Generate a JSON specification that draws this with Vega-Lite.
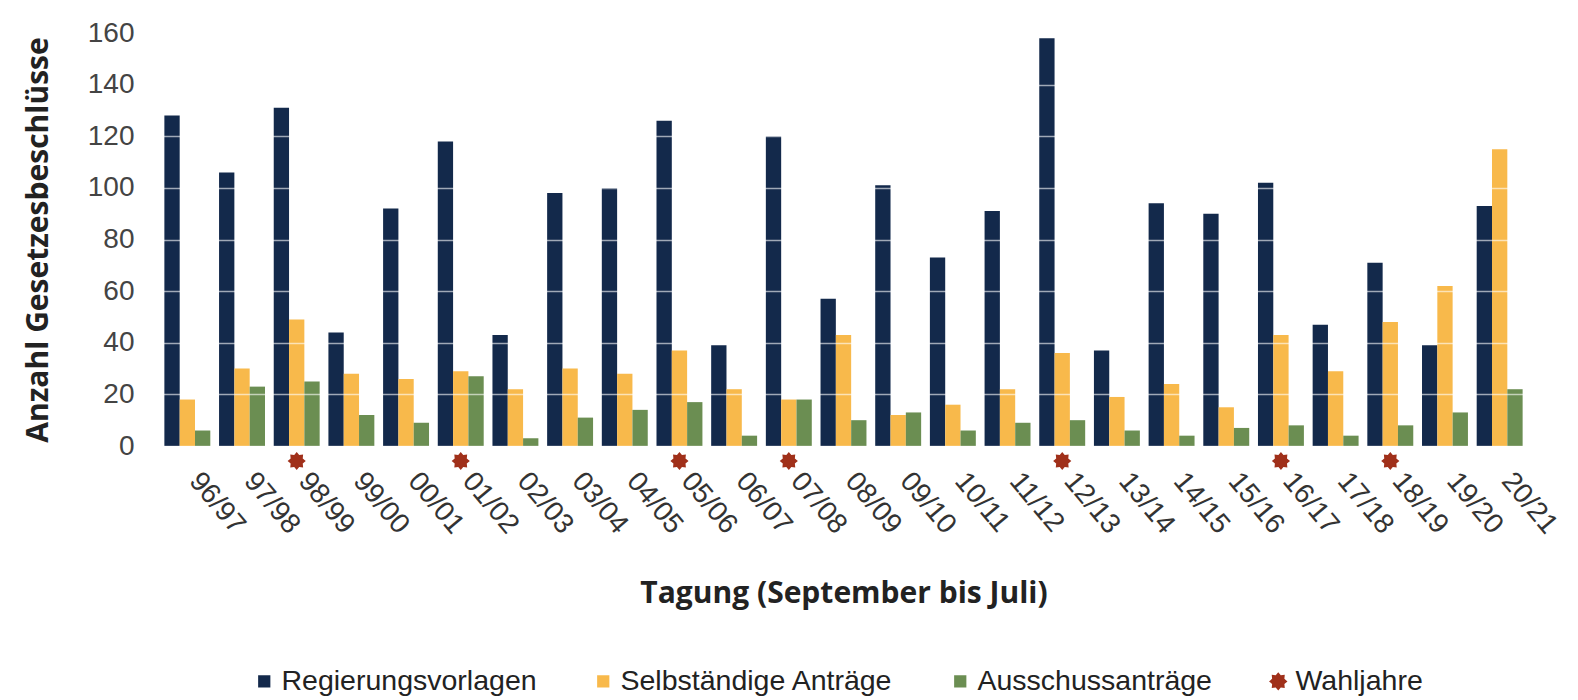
{
  "$schema": "https://vega.github.io/schema/vega-lite/v6.json",
  "width": 1367,
  "height": 413,
  "autosize": {"type": "none"},
  "padding": {"left": 160, "top": 33, "right": 51, "bottom": 254},
  "background": "white",
  "config": {"view": {"stroke": null}, "font": "Liberation Sans"},
  "datasets": {
    "bars": [
      {"Tagung": "96/97", "Serie": "Regierungsvorlagen", "Anzahl": 128},
      {"Tagung": "96/97", "Serie": "Selbständige Anträge", "Anzahl": 18},
      {"Tagung": "96/97", "Serie": "Ausschussanträge", "Anzahl": 6},
      {"Tagung": "97/98", "Serie": "Regierungsvorlagen", "Anzahl": 106},
      {"Tagung": "97/98", "Serie": "Selbständige Anträge", "Anzahl": 30},
      {"Tagung": "97/98", "Serie": "Ausschussanträge", "Anzahl": 23},
      {"Tagung": "98/99", "Serie": "Regierungsvorlagen", "Anzahl": 131},
      {"Tagung": "98/99", "Serie": "Selbständige Anträge", "Anzahl": 49},
      {"Tagung": "98/99", "Serie": "Ausschussanträge", "Anzahl": 25},
      {"Tagung": "99/00", "Serie": "Regierungsvorlagen", "Anzahl": 44},
      {"Tagung": "99/00", "Serie": "Selbständige Anträge", "Anzahl": 28},
      {"Tagung": "99/00", "Serie": "Ausschussanträge", "Anzahl": 12},
      {"Tagung": "00/01", "Serie": "Regierungsvorlagen", "Anzahl": 92},
      {"Tagung": "00/01", "Serie": "Selbständige Anträge", "Anzahl": 26},
      {"Tagung": "00/01", "Serie": "Ausschussanträge", "Anzahl": 9},
      {"Tagung": "01/02", "Serie": "Regierungsvorlagen", "Anzahl": 118},
      {"Tagung": "01/02", "Serie": "Selbständige Anträge", "Anzahl": 29},
      {"Tagung": "01/02", "Serie": "Ausschussanträge", "Anzahl": 27},
      {"Tagung": "02/03", "Serie": "Regierungsvorlagen", "Anzahl": 43},
      {"Tagung": "02/03", "Serie": "Selbständige Anträge", "Anzahl": 22},
      {"Tagung": "02/03", "Serie": "Ausschussanträge", "Anzahl": 3},
      {"Tagung": "03/04", "Serie": "Regierungsvorlagen", "Anzahl": 98},
      {"Tagung": "03/04", "Serie": "Selbständige Anträge", "Anzahl": 30},
      {"Tagung": "03/04", "Serie": "Ausschussanträge", "Anzahl": 11},
      {"Tagung": "04/05", "Serie": "Regierungsvorlagen", "Anzahl": 100},
      {"Tagung": "04/05", "Serie": "Selbständige Anträge", "Anzahl": 28},
      {"Tagung": "04/05", "Serie": "Ausschussanträge", "Anzahl": 14},
      {"Tagung": "05/06", "Serie": "Regierungsvorlagen", "Anzahl": 126},
      {"Tagung": "05/06", "Serie": "Selbständige Anträge", "Anzahl": 37},
      {"Tagung": "05/06", "Serie": "Ausschussanträge", "Anzahl": 17},
      {"Tagung": "06/07", "Serie": "Regierungsvorlagen", "Anzahl": 39},
      {"Tagung": "06/07", "Serie": "Selbständige Anträge", "Anzahl": 22},
      {"Tagung": "06/07", "Serie": "Ausschussanträge", "Anzahl": 4},
      {"Tagung": "07/08", "Serie": "Regierungsvorlagen", "Anzahl": 120},
      {"Tagung": "07/08", "Serie": "Selbständige Anträge", "Anzahl": 18},
      {"Tagung": "07/08", "Serie": "Ausschussanträge", "Anzahl": 18},
      {"Tagung": "08/09", "Serie": "Regierungsvorlagen", "Anzahl": 57},
      {"Tagung": "08/09", "Serie": "Selbständige Anträge", "Anzahl": 43},
      {"Tagung": "08/09", "Serie": "Ausschussanträge", "Anzahl": 10},
      {"Tagung": "09/10", "Serie": "Regierungsvorlagen", "Anzahl": 101},
      {"Tagung": "09/10", "Serie": "Selbständige Anträge", "Anzahl": 12},
      {"Tagung": "09/10", "Serie": "Ausschussanträge", "Anzahl": 13},
      {"Tagung": "10/11", "Serie": "Regierungsvorlagen", "Anzahl": 73},
      {"Tagung": "10/11", "Serie": "Selbständige Anträge", "Anzahl": 16},
      {"Tagung": "10/11", "Serie": "Ausschussanträge", "Anzahl": 6},
      {"Tagung": "11/12", "Serie": "Regierungsvorlagen", "Anzahl": 91},
      {"Tagung": "11/12", "Serie": "Selbständige Anträge", "Anzahl": 22},
      {"Tagung": "11/12", "Serie": "Ausschussanträge", "Anzahl": 9},
      {"Tagung": "12/13", "Serie": "Regierungsvorlagen", "Anzahl": 158},
      {"Tagung": "12/13", "Serie": "Selbständige Anträge", "Anzahl": 36},
      {"Tagung": "12/13", "Serie": "Ausschussanträge", "Anzahl": 10},
      {"Tagung": "13/14", "Serie": "Regierungsvorlagen", "Anzahl": 37},
      {"Tagung": "13/14", "Serie": "Selbständige Anträge", "Anzahl": 19},
      {"Tagung": "13/14", "Serie": "Ausschussanträge", "Anzahl": 6},
      {"Tagung": "14/15", "Serie": "Regierungsvorlagen", "Anzahl": 94},
      {"Tagung": "14/15", "Serie": "Selbständige Anträge", "Anzahl": 24},
      {"Tagung": "14/15", "Serie": "Ausschussanträge", "Anzahl": 4},
      {"Tagung": "15/16", "Serie": "Regierungsvorlagen", "Anzahl": 90},
      {"Tagung": "15/16", "Serie": "Selbständige Anträge", "Anzahl": 15},
      {"Tagung": "15/16", "Serie": "Ausschussanträge", "Anzahl": 7},
      {"Tagung": "16/17", "Serie": "Regierungsvorlagen", "Anzahl": 102},
      {"Tagung": "16/17", "Serie": "Selbständige Anträge", "Anzahl": 43},
      {"Tagung": "16/17", "Serie": "Ausschussanträge", "Anzahl": 8},
      {"Tagung": "17/18", "Serie": "Regierungsvorlagen", "Anzahl": 47},
      {"Tagung": "17/18", "Serie": "Selbständige Anträge", "Anzahl": 29},
      {"Tagung": "17/18", "Serie": "Ausschussanträge", "Anzahl": 4},
      {"Tagung": "18/19", "Serie": "Regierungsvorlagen", "Anzahl": 71},
      {"Tagung": "18/19", "Serie": "Selbständige Anträge", "Anzahl": 48},
      {"Tagung": "18/19", "Serie": "Ausschussanträge", "Anzahl": 8},
      {"Tagung": "19/20", "Serie": "Regierungsvorlagen", "Anzahl": 39},
      {"Tagung": "19/20", "Serie": "Selbständige Anträge", "Anzahl": 62},
      {"Tagung": "19/20", "Serie": "Ausschussanträge", "Anzahl": 13},
      {"Tagung": "20/21", "Serie": "Regierungsvorlagen", "Anzahl": 93},
      {"Tagung": "20/21", "Serie": "Selbständige Anträge", "Anzahl": 115},
      {"Tagung": "20/21", "Serie": "Ausschussanträge", "Anzahl": 22}
    ],
    "wahl": [
      {"Tagung": "98/99", "Serie": "Wahljahre"},
      {"Tagung": "01/02", "Serie": "Wahljahre"},
      {"Tagung": "05/06", "Serie": "Wahljahre"},
      {"Tagung": "07/08", "Serie": "Wahljahre"},
      {"Tagung": "12/13", "Serie": "Wahljahre"},
      {"Tagung": "16/17", "Serie": "Wahljahre"},
      {"Tagung": "18/19", "Serie": "Wahljahre"}
    ]
  },
  "layer": [
    {
      "data": {"name": "bars"},
      "mark": {"type": "bar"},
      "encoding": {
        "x": {
          "field": "Tagung",
          "type": "nominal",
          "sort": null,
          "scale": {
            "domain": ["96/97","97/98","98/99","99/00","00/01","01/02","02/03","03/04","04/05","05/06","06/07","07/08","08/09","09/10","10/11","11/12","12/13","13/14","14/15","15/16","16/17","17/18","18/19","19/20","20/21"],
            "paddingInner": 0.16,
            "paddingOuter": 0.08
          },
          "axis": {
            "title": "Tagung (September bis Juli)",
            "titleFont": "Open Sans",
            "titleFontWeight": "bold",
            "titleFontSize": 30,
            "titleColor": "#222222",
            "titlePadding": 40,
            "labelAngle": 50,
            "labelFont": "Liberation Sans",
            "labelFontSize": 28,
            "labelColor": "#333333",
            "labelPadding": 30,
            "labelOffset": 7,
            "domain": false,
            "ticks": false
          }
        },
        "xOffset": {
          "field": "Serie",
          "type": "nominal",
          "scale": {"domain": ["Regierungsvorlagen", "Selbständige Anträge", "Ausschussanträge"], "paddingInner": 0}
        },
        "y": {
          "field": "Anzahl",
          "type": "quantitative",
          "scale": {"domain": [0, 160], "nice": false},
          "axis": {
            "title": "Anzahl Gesetzesbeschlüsse",
            "titleFont": "Open Sans",
            "titleFontWeight": "bold",
            "titleFontSize": 30,
            "titleColor": "#222222",
            "titlePadding": 34,
            "values": [0, 20, 40, 60, 80, 100, 120, 140, 160],
            "labelFont": "Liberation Sans",
            "labelFontSize": 28,
            "labelColor": "#444444",
            "labelPadding": 26,
            "domain": false,
            "ticks": false,
            "grid": true,
            "gridColor": "#ffffff",
            "gridWidth": 1.5,
            "gridOpacity": 0.6,
            "zindex": 1
          }
        },
        "color": {
          "field": "Serie",
          "type": "nominal",
          "scale": {
            "domain": ["Regierungsvorlagen", "Selbständige Anträge", "Ausschussanträge", "Wahljahre"],
            "range": ["#13294b", "#f8b94b", "#6b8e52", "#a0301a"]
          },
          "legend": {
            "orient": "none",
            "legendX": 90,
            "legendY": 634,
            "direction": "horizontal",
            "title": null,
            "labelFont": "Liberation Sans",
            "labelFontSize": 28.5,
            "labelLimit": 0,
            "labelColor": "#222222",
            "labelOffset": 3,
            "columnPadding": 52,
            "symbolType": "square",
            "symbolSize": 150,
            "symbolStrokeWidth": 0,
            "symbolOpacity": 1,
            "encode": {
              "symbols": {
                "update": {
                  "shape": {"signal": "datum.value === 'Wahljahre' ? 'M0,-1L0.276,-0.665L0.707,-0.707L0.665,-0.276L1,0L0.665,0.276L0.707,0.707L0.276,0.665L0,1L-0.276,0.665L-0.707,0.707L-0.665,0.276L-1,0L-0.665,-0.276L-0.707,-0.707L-0.276,-0.665Z' : 'square'"},
                  "size": {"signal": "datum.value === 'Wahljahre' ? 340 : 150"}
                }
              }
            }
          }
        }
      }
    },
    {
      "data": {"name": "wahl"},
      "mark": {
        "type": "point",
        "shape": "M0,-1L0.276,-0.665L0.707,-0.707L0.665,-0.276L1,0L0.665,0.276L0.707,0.707L0.276,0.665L0,1L-0.276,0.665L-0.707,0.707L-0.665,0.276L-1,0L-0.665,-0.276L-0.707,-0.707L-0.276,-0.665Z",
        "filled": true,
        "opacity": 1,
        "size": 330,
        "yOffset": 15
      },
      "encoding": {
        "x": {"field": "Tagung", "type": "nominal", "sort": null},
        "y": {"datum": 0},
        "color": {"field": "Serie", "type": "nominal"}
      }
    }
  ]
}
